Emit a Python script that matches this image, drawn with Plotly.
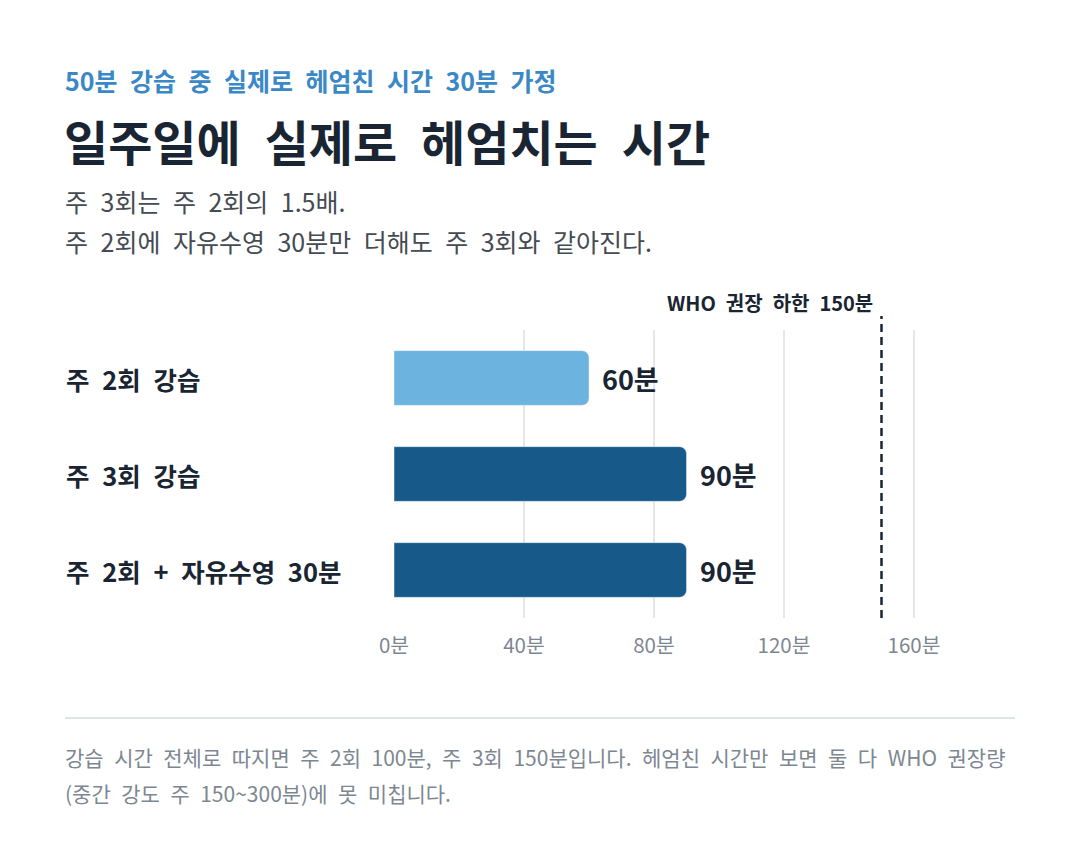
import plotly.graph_objects as go

# data
categories = ["주 2회 강습", "주 3회 강습", "주 2회 + 자유수영 30분"]
minutes = [60, 90, 90]
bar_colors = ["#6db3e0", "#175a8a", "#175a8a"]
tick_vals = [0, 40, 80, 120, 160]
tick_text = [f"{v}분" for v in tick_vals]
who_min = 150

kicker = "50분 강습 중 실제로 헤엄친 시간 30분 가정"
title = "일주일에 실제로 헤엄치는 시간"
subtitle = ["주 3회는 주 2회의 1.5배.", "주 2회에 자유수영 30분만 더해도 주 3회와 같아진다."]
footnote = ["강습 시간 전체로 따지면 주 2회 100분, 주 3회 150분입니다. 헤엄친 시간만 보면 둘 다 WHO 권장량",
            "(중간 강도 주 150~300분)에 못 미칩니다."]

FONT = "Noto Sans CJK KR"
DARK = "#1a2533"
GRAY = "#7d8791"


def wide(s):
    # the reference font has wider word gaps than Noto CJK
    return s.replace(" ", "\u2002")


# plot area (page has an 8px body margin)
W, H = 1080, 845
L, R, T, B = 386, 109, 322, 235
pw, ph = W - L - R, H - T - B


# positions below are measured on the reference picture
def px(x):
    return (x - 394) / pw


def py(y):
    return (618 - y) / ph


fig = go.Figure(go.Bar(
    x=minutes,
    y=categories,
    orientation="h",
    marker=dict(color=bar_colors, cornerradius=7),
    width=0.57,
    hoverinfo="skip",
))

annotations = []
# value labels
for c, v in zip(categories, minutes):
    annotations.append(dict(x=v, y=c, xref="x", yref="y", text=f"<b>{v}분</b>",
                            showarrow=False, xanchor="left", xshift=11,
                            font=dict(family=FONT, size=27, color=DARK)))
# category labels, left aligned
for c in categories:
    annotations.append(dict(x=px(64), y=c, xref="paper", yref="y", text=f"<b>{wide(c)}</b>",
                            showarrow=False, xanchor="left",
                            font=dict(family=FONT, size=25.5, color=DARK)))
# WHO label
annotations.append(dict(x=who_min, y=py(302), xref="x", yref="paper",
                        text=f"<b>{wide(f'WHO 권장 하한 {who_min}분')}</b>", showarrow=False,
                        xanchor="right", xshift=-7, yanchor="middle",
                        font=dict(family=FONT, size=20, color=DARK)))
# header texts
annotations.append(dict(x=px(63), y=py(80), xref="paper", yref="paper", text=f"<b>{wide(kicker)}</b>",
                        showarrow=False, xanchor="left", yanchor="middle",
                        font=dict(family=FONT, size=25, color="#3a88c6")))
annotations.append(dict(x=px(62), y=py(140), xref="paper", yref="paper", text=f"<b>{wide(title)}</b>",
                        showarrow=False, xanchor="left", yanchor="middle",
                        font=dict(family=FONT, size=48, color=DARK)))
for i, s in enumerate(subtitle):
    annotations.append(dict(x=px(63), y=py(201 + 40 * i), xref="paper", yref="paper", text=wide(s),
                            showarrow=False, xanchor="left", yanchor="middle",
                            font=dict(family=FONT, size=25, color="#444b52")))
for i, s in enumerate(footnote):
    annotations.append(dict(x=px(63), y=py(757 + 36 * i), xref="paper", yref="paper", text=wide(s),
                            showarrow=False, xanchor="left", yanchor="middle",
                            font=dict(family=FONT, size=21, color=GRAY)))

shapes = [
    dict(type="line", xref="x", yref="paper", x0=who_min, x1=who_min, y0=0, y1=py(316),
         line=dict(color=DARK, width=2.5, dash="8px,5px")),
    dict(type="line", xref="paper", yref="paper", x0=px(65), x1=px(1015), y0=py(718), y1=py(718),
         line=dict(color="#dce5e5", width=2)),
]

fig.update_layout(
    width=W, height=H,
    margin=dict(l=L, r=R, t=T, b=B),
    paper_bgcolor="white", plot_bgcolor="white",
    showlegend=False,
    xaxis=dict(range=[0, 180], tickmode="array", tickvals=tick_vals, ticktext=tick_text,
               showgrid=True, gridcolor="#e4e7ea", gridwidth=1.5, zeroline=False,
               showline=False, ticklabelstandoff=13,
               tickfont=dict(family=FONT, size=20.5, color=GRAY), fixedrange=True),
    yaxis=dict(categoryorder="array", categoryarray=categories, autorange="reversed",
               showticklabels=False, showgrid=False, zeroline=False, fixedrange=True),
    annotations=annotations,
    shapes=shapes,
    font=dict(family=FONT),
)

fig.write_html("out.html")
